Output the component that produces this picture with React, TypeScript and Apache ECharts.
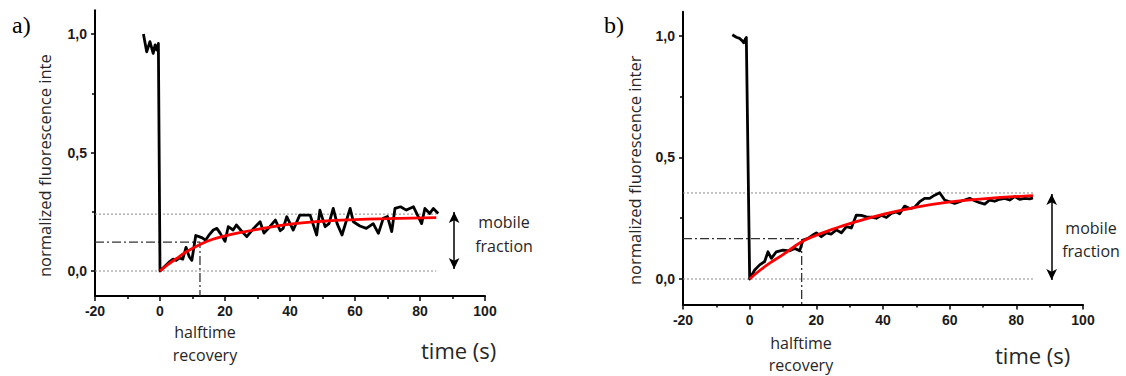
import { useEffect, useRef } from "react";
import * as echarts from "echarts";

// ---- axes ----
const timeTicks = [-20, 0, 20, 40, 60, 80, 100];
const valueTicks = [0, 0.5, 1];
const minorValueTicks = [0.25, 0.75];
const timeMin = -20;
const timeMax = 100;
const valueMin = -0.105;
const valueMax = 1.1;

// ---- panel a ----
const timeA = [
  -5.1, -4.1, -3.1, -2.1, -1.5, -1.0, -0.5, 0, 1.5, 3, 4, 5, 6, 7, 8, 9, 9.8, 11, 12, 13, 14, 15, 16.4, 17.5,
  18.5, 20, 21, 22.5, 23.5, 25, 26.7, 28.5, 30.8, 32, 33.8, 35.5, 37, 37.9, 39, 41, 43, 44.5, 46.2, 48.2,
  49.2, 50.8, 52, 53.3, 54.5, 56, 58.5, 59.5, 61.5, 63.5, 65.6, 67.2, 68.7, 70, 71.3, 72.3, 74, 75.8, 78,
  80.5, 81.5, 83, 84.1, 85.6,
];
const signalA = [
  1.0, 0.925, 0.968, 0.918, 0.954, 0.932, 0.96, 0, 0.02, 0.04, 0.05, 0.045, 0.055, 0.05, 0.1, 0.06, 0.045,
  0.15, 0.145, 0.14, 0.13, 0.15, 0.173, 0.18, 0.16, 0.125, 0.187, 0.173, 0.194, 0.17, 0.145, 0.175, 0.208,
  0.16, 0.187, 0.215, 0.17, 0.18, 0.229, 0.173, 0.236, 0.236, 0.236, 0.152, 0.257, 0.187, 0.2, 0.264, 0.2,
  0.152, 0.264, 0.208, 0.19, 0.18, 0.2, 0.159, 0.222, 0.23, 0.166, 0.264, 0.271, 0.257, 0.271, 0.2, 0.264,
  0.243, 0.264, 0.243,
];
const fitTimeA = [0, 2.5, 5, 8, 12, 16, 20, 25, 30, 40, 50, 60, 70, 85];
const fitA = [0, 0.028, 0.052, 0.08, 0.11, 0.133, 0.148, 0.163, 0.176, 0.198, 0.21, 0.217, 0.221, 0.225];
const plateauA = 0.24;
const halfLevelA = 0.122;
const halfTimeA = 12.3;
const guideEndA = 85;
const arrowTimeA = 90.5;
const arrowTopA = 0.249;
const arrowBottomA = 0.008;

// ---- panel b ----
const timeB = [
  -5.2, -4, -3, -2.2, -1.8, -1.2, -1.0, 0, 1.5, 3, 4.5, 5.5, 6.5, 8, 10, 12, 13.5, 15, 16, 17.5, 19, 20,
  21.5, 23, 24.5, 26, 27.5, 29, 30.5, 32, 33.5, 35, 36.5, 38, 39.5, 41, 42.5, 44, 45, 46.5, 48, 49.5, 51,
  52.5, 54, 55.5, 57, 58.5, 60, 61.5, 63, 64.5, 66, 67.5, 69, 70.5, 72, 73.5, 75, 76.5, 78, 79.5, 81, 82.5,
  84, 85,
];
const signalB = [
  1.005, 0.995, 0.99, 0.98, 0.972, 0.99, 0.994, 0, 0.037, 0.058, 0.072, 0.112, 0.085, 0.112, 0.119, 0.116,
  0.126, 0.116, 0.16, 0.167, 0.181, 0.19, 0.174, 0.19, 0.185, 0.202, 0.19, 0.215, 0.21, 0.263, 0.262, 0.256,
  0.255, 0.25, 0.262, 0.253, 0.27, 0.276, 0.268, 0.3, 0.29, 0.295, 0.318, 0.332, 0.332, 0.345, 0.355, 0.325,
  0.318, 0.311, 0.318, 0.325, 0.332, 0.322, 0.314, 0.308, 0.325, 0.32, 0.328, 0.332, 0.325, 0.339, 0.328,
  0.332, 0.33, 0.334,
];
const fitTimeB = [0, 3, 6, 10, 15.5, 20, 25, 31, 40, 49, 59, 70, 85];
const fitB = [0, 0.035, 0.065, 0.1, 0.152, 0.18, 0.205, 0.232, 0.266, 0.293, 0.315, 0.33, 0.343];
const plateauB = 0.354;
const halfLevelB = 0.166;
const halfTimeB = 15.6;
const guideEndB = 85;
const arrowTimeB = 90.6;
const arrowTopB = 0.35;
const arrowBottomB = -0.004;

const pair = (xs: number[], ys: number[]) => xs.map((x, i) => [x, ys[i]]);
const fmtValue = (v: number) => v.toFixed(1).replace(".", ",");

const labelFont = {
  color: "#1a1a1a",
  fontWeight: "bold" as const,
  fontFamily: "Liberation Sans, Arial, sans-serif",
  fontSize: 14,
};
const noteFont = "Open Sans, sans-serif";
const noteColor = "#262626";

function makeXAxis(gridIndex: number) {
  return {
    type: "value",
    gridIndex,
    min: timeMin,
    max: timeMax,
    interval: 20,
    axisLine: { onZero: false, lineStyle: { color: "#000", width: 2 } },
    axisTick: { show: true, length: 5, lineStyle: { color: "#000", width: 1.5 } },
    minorTick: { show: true, splitNumber: 2, length: 3, lineStyle: { color: "#000", width: 1.5 } },
    axisLabel: { ...labelFont, margin: 8, customValues: timeTicks },
    splitLine: { show: false },
    minorSplitLine: { show: false },
  };
}

function makeYAxes(gridIndex: number) {
  return [
    {
      type: "value",
      gridIndex,
      position: "left",
      min: valueMin,
      max: valueMax,
      axisLine: { onZero: false, lineStyle: { color: "#000", width: 2 } },
      axisTick: { show: true, length: 4, customValues: valueTicks, lineStyle: { color: "#000", width: 1.5 } },
      axisLabel: { ...labelFont, margin: 8, customValues: valueTicks, formatter: fmtValue },
      splitLine: { show: false },
    },
    {
      type: "value",
      gridIndex,
      position: "left",
      min: valueMin,
      max: valueMax,
      axisLine: { show: false, onZero: false },
      axisTick: { show: true, length: 3, customValues: minorValueTicks, lineStyle: { color: "#000", width: 1.5 } },
      axisLabel: { show: false },
      splitLine: { show: false },
    },
  ];
}

function panelSeries(
  xi: number,
  yi: number,
  t: number[],
  s: number[],
  ft: number[],
  f: number[],
  plateau: number,
  halfLevel: number,
  halfTime: number,
  guideEnd: number,
  arrowTime: number,
  arrowTop: number,
  arrowBottom: number
) {
  const base = { type: "line", xAxisIndex: xi, yAxisIndex: yi, showSymbol: false, silent: true };
  return [
    {
      ...base,
      data: [
        [timeMin, plateau],
        [guideEnd, plateau],
      ],
      lineStyle: { color: "#8a8a8a", width: 1, type: [2, 2] },
      z: 1,
      markLine: {
        silent: true,
        symbol: ["arrow", "arrow"],
        symbolSize: [8, 11],
        label: { show: false },
        lineStyle: { color: "#000", width: 1.5, type: "solid" },
        data: [[{ coord: [arrowTime, arrowTop] }, { coord: [arrowTime, arrowBottom] }]],
      },
    },
    {
      ...base,
      data: [
        [timeMin, 0],
        [guideEnd, 0],
      ],
      lineStyle: { color: "#8a8a8a", width: 1, type: [2, 2] },
      z: 1,
    },
    {
      ...base,
      data: [
        [timeMin, halfLevel],
        [halfTime, halfLevel],
        [halfTime, valueMin],
      ],
      lineStyle: { color: "#333", width: 1.3, type: [9, 3, 2, 3] },
      z: 1,
    },
    {
      ...base,
      data: pair(t, s),
      lineStyle: { color: "#000", width: 2.8, join: "round" },
      z: 3,
    },
    {
      ...base,
      data: pair(ft, f),
      smooth: true,
      lineStyle: { color: "#ff0000", width: 2.8 },
      z: 4,
    },
  ];
}

function text(x: number, y: number, str: string, font: string, align = "center", extra: any = {}) {
  return {
    type: "text",
    x,
    y,
    silent: true,
    ...extra,
    style: {
      text: str,
      font,
      fill: noteColor,
      textAlign: align,
      textVerticalAlign: "middle",
    },
  };
}

export default function App() {
  const ref = useRef<HTMLDivElement>(null);
  useEffect(() => {
    if (!ref.current) return;
    const chart = echarts.init(ref.current, null, { renderer: "svg" });
    chart.setOption({
      animation: false,
      backgroundColor: "#fff",
      grid: [
        { left: 95, top: 10.3, width: 390, height: 285.6, containLabel: false },
        { left: 683, top: 11.7, width: 400, height: 292.8, containLabel: false },
      ],
      xAxis: [makeXAxis(0), makeXAxis(1)],
      yAxis: [...makeYAxes(0), ...makeYAxes(1)],
      series: [
        ...panelSeries(0, 0, timeA, signalA, fitTimeA, fitA, plateauA, halfLevelA, halfTimeA, guideEndA, arrowTimeA, arrowTopA, arrowBottomA),
        ...panelSeries(1, 2, timeB, signalB, fitTimeB, fitB, plateauB, halfLevelB, halfTimeB, guideEndB, arrowTimeB, arrowTopB, arrowBottomB),
      ],
      graphic: [
        { type: "text", x: 12, y: 25, silent: true, style: { text: "a)", font: "24px 'Liberation Serif', serif", fill: "#000", textAlign: "left", textVerticalAlign: "middle" } },
        { type: "text", x: 604, y: 25, silent: true, style: { text: "b)", font: "24px 'Liberation Serif', serif", fill: "#000", textAlign: "left", textVerticalAlign: "middle" } },
        text(44, 277, "normalized fluorescence inte", `16.5px ${noteFont}`, "left", { rotation: Math.PI / 2 }),
        text(634, 285, "normalized fluorescence inter", `16.5px ${noteFont}`, "left", { rotation: Math.PI / 2 }),
        text(205, 332, "halftime", `16px ${noteFont}`),
        text(205, 355, "recovery", `16px ${noteFont}`),
        text(801, 343, "halftime", `16px ${noteFont}`),
        text(801, 365, "recovery", `16px ${noteFont}`),
        text(421, 350, "time (s)", `22px ${noteFont}`, "left"),
        text(995, 355, "time (s)", `22px ${noteFont}`, "left"),
        text(504, 222, "mobile", `16px ${noteFont}`),
        text(504, 246, "fraction", `16px ${noteFont}`),
        text(1091, 228, "mobile", `16px ${noteFont}`),
        text(1091, 251, "fraction", `16px ${noteFont}`),
      ],
    });
    return () => chart.dispose();
  }, []);
  return <div ref={ref} style={{ position: "absolute", left: 0, top: 0, width: 1126, height: 376 }} />;
}
